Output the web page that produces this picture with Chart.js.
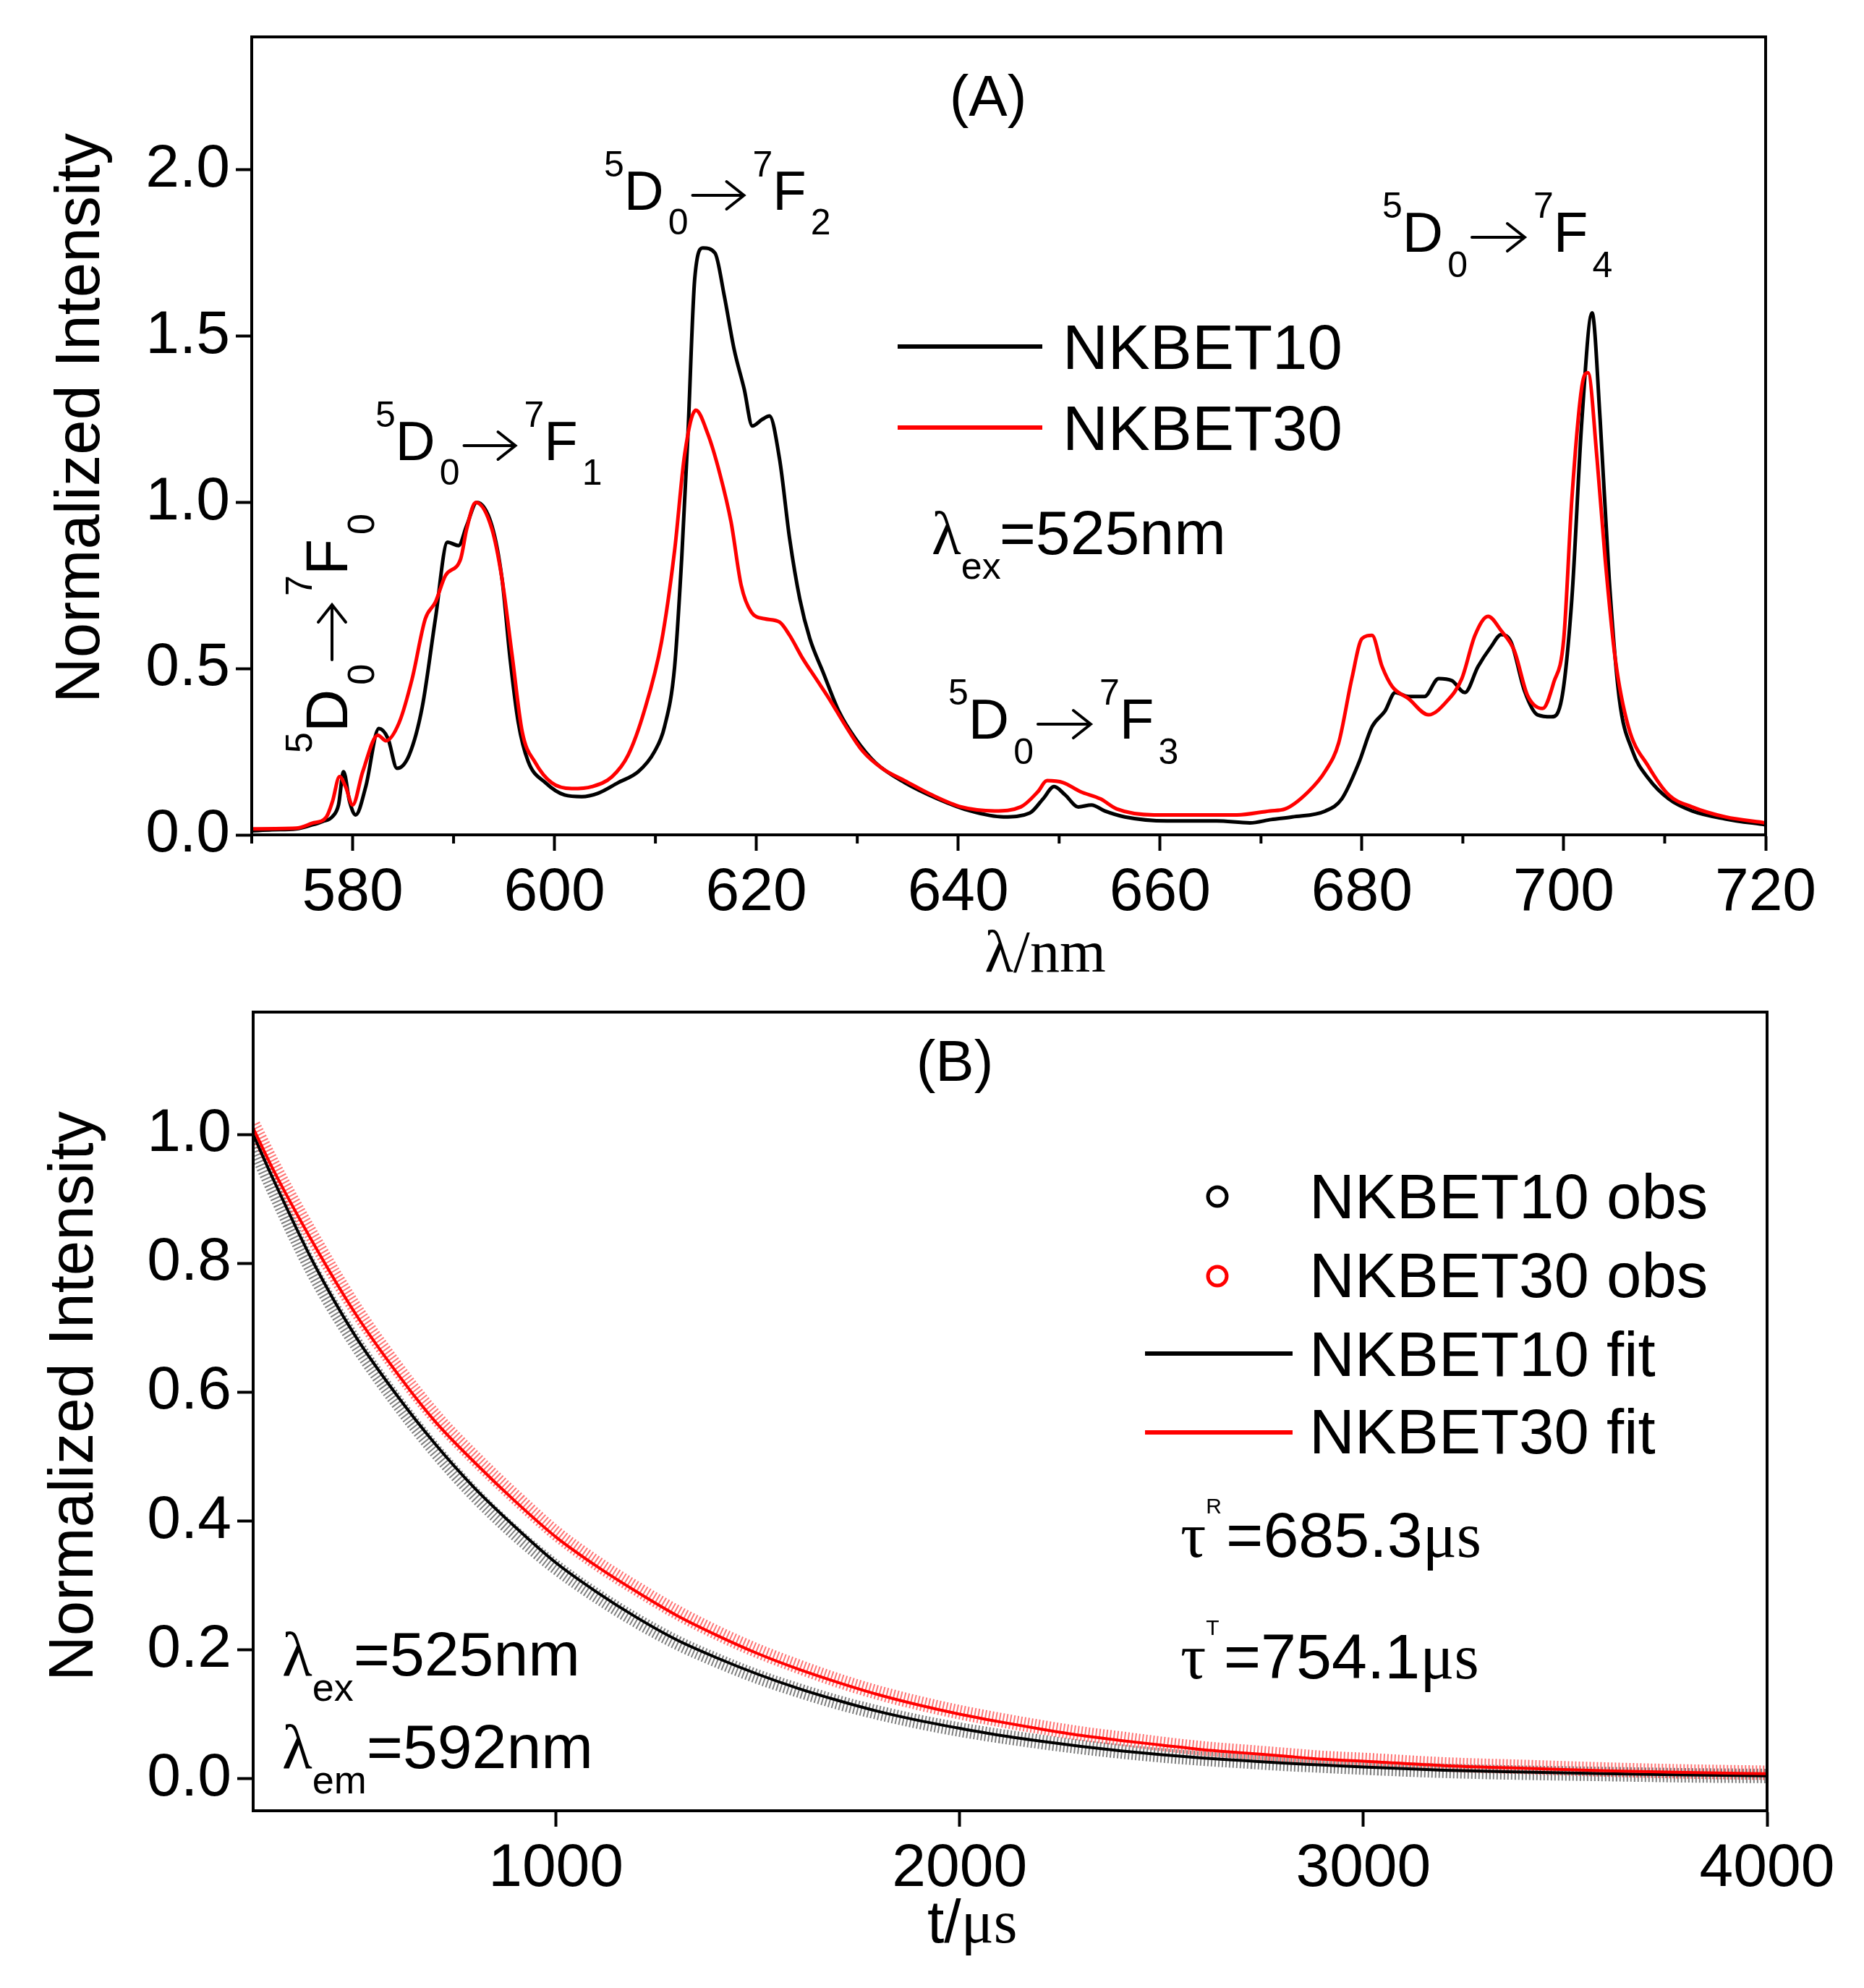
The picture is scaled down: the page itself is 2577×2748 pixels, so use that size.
<!DOCTYPE html>
<html>
<head>
<meta charset="utf-8">
<script src="https://cdn.jsdelivr.net/npm/chart.js@4.4.1/dist/chart.umd.min.js"></script>
<style>
  html, body { margin: 0; padding: 0; background: #fff; }
  canvas { position: absolute; left: 0; }
  #chartA { top: 0; }
  #chartB { top: 1374px; }
</style>
</head>
<body>
<canvas id="chartA" width="2577" height="1374"></canvas>
<canvas id="chartB" width="2577" height="1374"></canvas>
<script>
// ---- panel (A): emission spectra ----
const lam10 = [570, 572, 574.4, 576, 577, 578, 578.6, 579.1, 579.7, 580.3, 581.3, 582.6, 583.5, 584.4, 585.6, 586.9,
  588.2, 589.4, 590.5, 591.3, 592.3, 593.8, 594.8, 595.6, 596.4, 597.4, 599.1, 601, 602.7, 604.3, 606.3, 608.3,
  609.9, 610.9, 611.9, 612.6, 613.2, 613.9, 614.7, 615.9, 616.8, 617.8, 618.8, 619.6, 620.6, 621.3, 622.3, 623.3,
  624.3, 625.3, 626.6, 628.2, 629.8, 631.8, 634.7, 638, 641.2, 644.5, 647.1, 648.4, 649.5, 650.6, 651.9, 653.2,
  654.5, 656.5, 660.7, 665.6, 668.9, 671, 673.1, 676.4, 678, 679.7, 681, 682.3, 683.3, 684.6, 686.2, 687.6,
  688.9, 690.2, 691.5, 692.8, 693.8, 694.8, 696.1, 697.4, 698.8, 699.8, 700.8, 701.8, 702.8, 703.6, 704.5, 705.5,
  706.8, 708.4, 710.4, 712.7, 716, 720];
const int10 = [0.012, 0.015, 0.018, 0.03, 0.04, 0.055, 0.09, 0.19, 0.10, 0.06, 0.145, 0.32, 0.29, 0.20, 0.24, 0.385,
  0.65, 0.88, 0.87, 0.93, 1.0, 0.93, 0.77, 0.53, 0.34, 0.22, 0.157, 0.12, 0.115, 0.125, 0.157, 0.19,
  0.25, 0.325, 0.505, 0.83, 1.19, 1.675, 1.765, 1.75, 1.625, 1.46, 1.34, 1.23, 1.25, 1.26, 1.13, 0.89,
  0.71, 0.59, 0.49, 0.37, 0.29, 0.217, 0.157, 0.108, 0.072, 0.054, 0.066, 0.108, 0.145, 0.12, 0.084, 0.09,
  0.072, 0.054, 0.042, 0.042, 0.036, 0.046, 0.054, 0.072, 0.108, 0.217, 0.325, 0.373, 0.428, 0.416, 0.416, 0.47,
  0.464, 0.428, 0.506, 0.566, 0.602, 0.578, 0.434, 0.361, 0.355, 0.41, 0.71, 1.25, 1.57, 1.25, 0.77, 0.41,
  0.253, 0.169, 0.108, 0.072, 0.048, 0.03];

const lam30 = [570, 574.4, 576, 577.4, 578, 578.7, 579.3, 580, 581, 582.5, 583.3, 584.6, 585.9, 587.2, 588.2, 589.2,
  590.7, 591.3, 592.2, 593.8, 594.8, 595.8, 596.8, 598.1, 599.7, 601.7, 603.7, 605.7, 607.3, 608.9, 610.6, 611.9,
  612.9, 614, 615.2, 616.4, 617.5, 618.5, 619.5, 620.8, 622.3, 623.3, 624.6, 625.9, 627.2, 628.9, 630.5, 632.5,
  634.7, 637.4, 640.3, 643.6, 646.2, 647.9, 648.8, 650.4, 652.1, 654.1, 655.7, 659.4, 664.3, 667.6, 670.9, 672.4,
  674.7, 676.4, 677.7, 679, 680, 681, 682, 683, 684.6, 686.6, 688.3, 689.9, 691.2, 692.5, 693.8, 695.1,
  696.4, 697.9, 699, 700, 700.8, 701.8, 702.4, 703.3, 704.1, 705.1, 706.4, 708.4, 710.4, 712.7, 716, 720];
const int30 = [0.018, 0.02, 0.035, 0.054, 0.10, 0.175, 0.145, 0.09, 0.19, 0.30, 0.283, 0.337, 0.47, 0.65, 0.70, 0.78,
  0.83, 0.92, 1.0, 0.92, 0.77, 0.54, 0.31, 0.217, 0.157, 0.139, 0.145, 0.175, 0.24, 0.373, 0.58, 0.855,
  1.145, 1.277, 1.205, 1.084, 0.94, 0.75, 0.67, 0.65, 0.64, 0.60, 0.53, 0.47, 0.41, 0.325, 0.253, 0.199,
  0.163, 0.12, 0.084, 0.072, 0.084, 0.13, 0.163, 0.157, 0.13, 0.108, 0.078, 0.06, 0.06, 0.06, 0.072, 0.078,
  0.13, 0.193, 0.277, 0.47, 0.59, 0.60, 0.506, 0.446, 0.41, 0.361, 0.398, 0.47, 0.60, 0.657, 0.614, 0.554,
  0.42, 0.38, 0.458, 0.59, 1.01, 1.35, 1.39, 1.13, 0.83, 0.53, 0.325, 0.205, 0.12, 0.084, 0.054, 0.036];

const xTicksA = [580, 600, 620, 640, 660, 680, 700, 720];
const xMinorA = [570, 590, 610, 630, 650, 670, 690, 710];
const yTicksA = [0, 0.5, 1.0, 1.5, 2.0];

// ---- panel (B): decay curves ----
const tDecay = [250, 300, 400, 500, 600, 700, 800, 900, 1000, 1100, 1200, 1300, 1400, 1500, 1600, 1700, 1800,
  1900, 2000, 2100, 2200, 2300, 2400, 2500, 2600, 2700, 2800, 2900, 3000, 3200, 3400, 3600, 3800, 4000];
const obs10 = [0.985, 0.915, 0.785, 0.68, 0.59, 0.51, 0.44, 0.38, 0.328, 0.284, 0.245, 0.211, 0.183, 0.158, 0.137,
  0.118, 0.102, 0.088, 0.076, 0.066, 0.057, 0.049, 0.042, 0.036, 0.031, 0.027, 0.023, 0.020, 0.017, 0.012,
  0.009, 0.007, 0.005, 0.004];
const obs30 = [1.015, 0.952, 0.838, 0.733, 0.643, 0.563, 0.497, 0.437, 0.381, 0.335, 0.295, 0.258, 0.226, 0.198,
  0.174, 0.152, 0.133, 0.117, 0.103, 0.091, 0.080, 0.070, 0.062, 0.054, 0.047, 0.042, 0.037, 0.032, 0.029,
  0.022, 0.018, 0.014, 0.011, 0.009];
const fit10 = [1.00, 0.93, 0.80, 0.69, 0.60, 0.52, 0.45, 0.39, 0.335, 0.29, 0.25, 0.215, 0.187, 0.162, 0.140,
  0.121, 0.104, 0.090, 0.078, 0.067, 0.058, 0.050, 0.043, 0.037, 0.032, 0.028, 0.024, 0.021, 0.018, 0.013,
  0.010, 0.0075, 0.0055, 0.0042];
const fit30 = [1.01, 0.945, 0.83, 0.725, 0.635, 0.555, 0.49, 0.43, 0.375, 0.33, 0.29, 0.253, 0.222, 0.194, 0.170,
  0.149, 0.130, 0.114, 0.100, 0.088, 0.077, 0.067, 0.059, 0.052, 0.045, 0.040, 0.035, 0.030, 0.027, 0.020,
  0.016, 0.012, 0.0095, 0.0075];

const xTicksB = [1000, 2000, 3000, 4000];
const yTicksB = [0, 0.2, 0.4, 0.6, 0.8, 1.0];

const SANS = '"Liberation Sans", Arial, sans-serif';
const SERIF = '"Liberation Serif", "Times New Roman", serif';

function pairs(xs, ys) {
  return xs.map((x, i) => ({ x: x, y: ys[i] }));
}

// draw a run of text pieces (super/subscripts, mixed fonts, long arrows) from x,y
function rich(ctx, x, y, parts, angle) {
  ctx.save();
  ctx.translate(x, y);
  if (angle) ctx.rotate(angle);
  ctx.textAlign = 'left';
  ctx.textBaseline = 'alphabetic';
  ctx.fillStyle = '#000';
  ctx.strokeStyle = '#000';
  let cx = 0;
  parts.forEach(p => {
    cx += p.dx || 0;
    if (p.arrow) {
      const ay = p.dy || 0;
      ctx.lineWidth = 4;
      ctx.lineCap = 'round';
      ctx.beginPath();
      ctx.moveTo(cx, ay);
      ctx.lineTo(cx + p.arrow, ay);
      ctx.moveTo(cx + p.arrow - 24, ay - 19);
      ctx.lineTo(cx + p.arrow, ay);
      ctx.lineTo(cx + p.arrow - 24, ay + 19);
      ctx.stroke();
      cx += p.arrow;
      return;
    }
    ctx.font = p.font;
    ctx.fillText(p.t, cx, p.dy || 0);
    cx += ctx.measureText(p.t).width;
  });
  ctx.restore();
}

function transition(sub, size, small) {
  const big = size + 'px ' + SANS;
  const sm = small + 'px ' + SANS;
  const up = -Math.round(size * 0.6), down = Math.round(size * 0.45);
  return [
    { t: '5', font: sm, dy: up },
    { t: 'D', font: big },
    { t: '0', font: sm, dy: down, dx: 6 },
    { arrow: Math.round(size * 0.93), dy: -Math.round(size * 0.26), dx: 6 },
    { t: '7', font: sm, dy: up, dx: 12 },
    { t: 'F', font: big },
    { t: sub, font: sm, dy: down, dx: 6 }
  ];
}

function axisCommon(ticksArr, fmt, pad) {
  return {
    type: 'linear',
    afterBuildTicks: s => { s.ticks = ticksArr.map(v => ({ value: v })); },
    ticks: {
      font: { family: SANS, size: 84 },
      color: '#000',
      padding: pad,
      maxRotation: 0,
      autoSkip: false,
      callback: fmt
    },
    grid: {
      display: true,
      drawOnChartArea: false,
      drawTicks: true,
      tickLength: 22,
      tickWidth: 4,
      tickColor: '#000'
    },
    border: { display: true, color: '#000', width: 4 }
  };
}

function fixSize(prop, size) {
  return s => {
    s[prop] = size;
    s.paddingTop = 0; s.paddingBottom = 0; s.paddingLeft = 0; s.paddingRight = 0;
  };
}

const framePlugin = {
  id: 'frame',
  afterDatasetsDraw(chart) {
    const { ctx, chartArea: a } = chart;
    ctx.save();
    ctx.strokeStyle = '#000';
    ctx.lineWidth = 4;
    ctx.strokeRect(a.left, a.top, a.right - a.left, a.bottom - a.top);
    ctx.restore();
  }
};

// ---------------- chart A ----------------
const xA = axisCommon(xTicksA, v => String(v), 8);
xA.min = 570; xA.max = 720; xA.position = 'bottom';
xA.afterFit = fixSize('height', 220);
const yA = axisCommon(yTicksA, v => Number(v).toFixed(1), 8);
yA.min = 0; yA.max = 2.4;
yA.afterFit = fixSize('width', 348);

const annotA = {
  id: 'annotA',
  afterDraw(chart) {
    const ctx = chart.ctx;
    const xs = chart.scales.x, a = chart.chartArea;
    ctx.save();
    // minor ticks
    ctx.strokeStyle = '#000';
    ctx.lineWidth = 4;
    xMinorA.forEach(v => {
      const px = xs.getPixelForValue(v);
      ctx.beginPath();
      ctx.moveTo(px, a.bottom);
      ctx.lineTo(px, a.bottom + 12);
      ctx.stroke();
    });
    // axis titles
    ctx.fillStyle = '#000';
    ctx.font = '87px ' + SANS;
    ctx.textAlign = 'center';
    ctx.textBaseline = 'alphabetic';
    ctx.translate(137, 578);
    ctx.rotate(-Math.PI / 2);
    ctx.fillText('Normalized Intensity', 0, 0);
    ctx.restore();

    ctx.save();
    ctx.fillStyle = '#000';
    ctx.textAlign = 'center';
    ctx.font = '82px ' + SERIF;
    ctx.fillText('\u03bb/nm', 1445, 1343);
    ctx.font = '80px ' + SANS;
    ctx.fillText('(A)', 1366, 160);

    // legend
    ctx.lineWidth = 6;
    ctx.strokeStyle = '#000';
    ctx.beginPath(); ctx.moveTo(1241, 479); ctx.lineTo(1441, 479); ctx.stroke();
    ctx.strokeStyle = '#ff0000';
    ctx.beginPath(); ctx.moveTo(1241, 591); ctx.lineTo(1441, 591); ctx.stroke();
    ctx.textAlign = 'left';
    ctx.font = '87px ' + SANS;
    ctx.fillText('NKBET10', 1469, 510);
    ctx.fillText('NKBET30', 1469, 622);
    ctx.restore();

    rich(ctx, 1288, 766, [
      { t: '\u03bb', font: '84px ' + SERIF },
      { t: 'ex', font: '52px ' + SANS, dy: 34 },
      { t: '=525nm', font: '86px ' + SANS, dx: -2 }
    ]);

    rich(ctx, 835, 290, transition('2', 76, 50));
    rich(ctx, 519, 636, transition('1', 76, 50));
    rich(ctx, 1311, 1021, transition('3', 78, 50));
    rich(ctx, 1911, 348, transition('4', 78, 50));
    rich(ctx, 480, 1041, transition('0', 82, 52), -Math.PI / 2);
  }
};

new Chart(document.getElementById('chartA'), {
  type: 'line',
  data: {
    datasets: [
      {
        label: 'NKBET30',
        data: pairs(lam30, int30),
        borderColor: '#ff0000',
        borderWidth: 5,
        pointRadius: 0,
        cubicInterpolationMode: 'monotone',
        order: 0
      },
      {
        label: 'NKBET10',
        data: pairs(lam10, int10),
        borderColor: '#000000',
        borderWidth: 5,
        pointRadius: 0,
        cubicInterpolationMode: 'monotone',
        order: 1
      }
    ]
  },
  options: {
    responsive: false,
    devicePixelRatio: 1,
    animation: false,
    layout: { padding: { top: 51, right: 136, left: 0, bottom: 0 } },
    scales: { x: xA, y: yA },
    plugins: { legend: { display: false }, tooltip: { enabled: false } }
  },
  plugins: [framePlugin, annotA]
});

// ---------------- chart B ----------------
const xB = axisCommon(xTicksB, v => String(v), 8);
xB.min = 250; xB.max = 4000; xB.position = 'bottom';
xB.afterFit = fixSize('height', 245);
const yB = axisCommon(yTicksB, v => Number(v).toFixed(1), 8);
yB.min = -0.05; yB.max = 1.19;
yB.afterFit = fixSize('width', 350);

const annotB = {
  id: 'annotB',
  afterDraw(chart) {
    const ctx = chart.ctx;
    ctx.save();
    ctx.fillStyle = '#000';
    ctx.font = '87px ' + SANS;
    ctx.textAlign = 'center';
    ctx.translate(128, 556);
    ctx.rotate(-Math.PI / 2);
    ctx.fillText('Normalized Intensity', 0, 0);
    ctx.restore();

    rich(ctx, 1282, 1311, [
      { t: 't/', font: '84px ' + SANS },
      { t: '\u03bcs', font: '84px ' + SERIF }
    ]);

    ctx.save();
    ctx.fillStyle = '#000';
    ctx.textAlign = 'center';
    ctx.font = '80px ' + SANS;
    ctx.fillText('(B)', 1320, 120);

    // legend
    ctx.lineWidth = 5;
    ctx.strokeStyle = '#000';
    ctx.beginPath(); ctx.arc(1683, 280, 13, 0, Math.PI * 2); ctx.stroke();
    ctx.strokeStyle = '#ff0000';
    ctx.beginPath(); ctx.arc(1683, 390, 13, 0, Math.PI * 2); ctx.stroke();
    ctx.lineWidth = 6;
    ctx.strokeStyle = '#000';
    ctx.beginPath(); ctx.moveTo(1583, 497); ctx.lineTo(1787, 497); ctx.stroke();
    ctx.strokeStyle = '#ff0000';
    ctx.beginPath(); ctx.moveTo(1583, 606); ctx.lineTo(1787, 606); ctx.stroke();
    ctx.textAlign = 'left';
    ctx.font = '87px ' + SANS;
    ctx.fillText('NKBET10 obs', 1810, 310);
    ctx.fillText('NKBET30 obs', 1810, 419);
    ctx.fillText('NKBET10 fit', 1810, 528);
    ctx.fillText('NKBET30 fit', 1810, 635);
    ctx.restore();

    rich(ctx, 1632, 778, [
      { t: '\u03c4', font: '88px ' + SERIF },
      { t: 'R', font: '30px ' + SANS, dy: -60 },
      { t: '=685.3', font: '88px ' + SANS, dx: 6 },
      { t: '\u03bcs', font: '88px ' + SERIF }
    ]);
    rich(ctx, 1632, 946, [
      { t: '\u03c4', font: '88px ' + SERIF },
      { t: 'T', font: '30px ' + SANS, dy: -60 },
      { t: '=754.1', font: '88px ' + SANS, dx: 6 },
      { t: '\u03bcs', font: '88px ' + SERIF }
    ]);
    rich(ctx, 390, 942, [
      { t: '\u03bb', font: '86px ' + SERIF },
      { t: 'ex', font: '54px ' + SANS, dy: 35 },
      { t: '=525nm', font: '86px ' + SANS }
    ]);
    rich(ctx, 390, 1070, [
      { t: '\u03bb', font: '86px ' + SERIF },
      { t: 'em', font: '54px ' + SANS, dy: 35 },
      { t: '=592nm', font: '86px ' + SANS }
    ]);
  }
};

new Chart(document.getElementById('chartB'), {
  type: 'line',
  data: {
    datasets: [
      {
        label: 'NKBET30 fit',
        data: pairs(tDecay, fit30),
        borderColor: '#ff0000',
        borderWidth: 4,
        pointRadius: 0,
        cubicInterpolationMode: 'monotone',
        order: 0
      },
      {
        label: 'NKBET10 fit',
        data: pairs(tDecay, fit10),
        borderColor: '#000000',
        borderWidth: 4,
        pointRadius: 0,
        cubicInterpolationMode: 'monotone',
        order: 1
      },
      {
        label: 'NKBET30 obs',
        data: pairs(tDecay, obs30),
        borderColor: 'rgba(255,0,0,0.55)',
        borderWidth: 20,
        borderDash: [2, 3],
        pointRadius: 0,
        cubicInterpolationMode: 'monotone',
        order: 2
      },
      {
        label: 'NKBET10 obs',
        data: pairs(tDecay, obs10),
        borderColor: 'rgba(0,0,0,0.5)',
        borderWidth: 20,
        borderDash: [2, 3],
        pointRadius: 0,
        cubicInterpolationMode: 'monotone',
        order: 3
      }
    ]
  },
  options: {
    responsive: false,
    devicePixelRatio: 1,
    animation: false,
    layout: { padding: { top: 25, right: 134, left: 0, bottom: 0 } },
    scales: { x: xB, y: yB },
    plugins: { legend: { display: false }, tooltip: { enabled: false } }
  },
  plugins: [framePlugin, annotB]
});
</script>
</body>
</html>
